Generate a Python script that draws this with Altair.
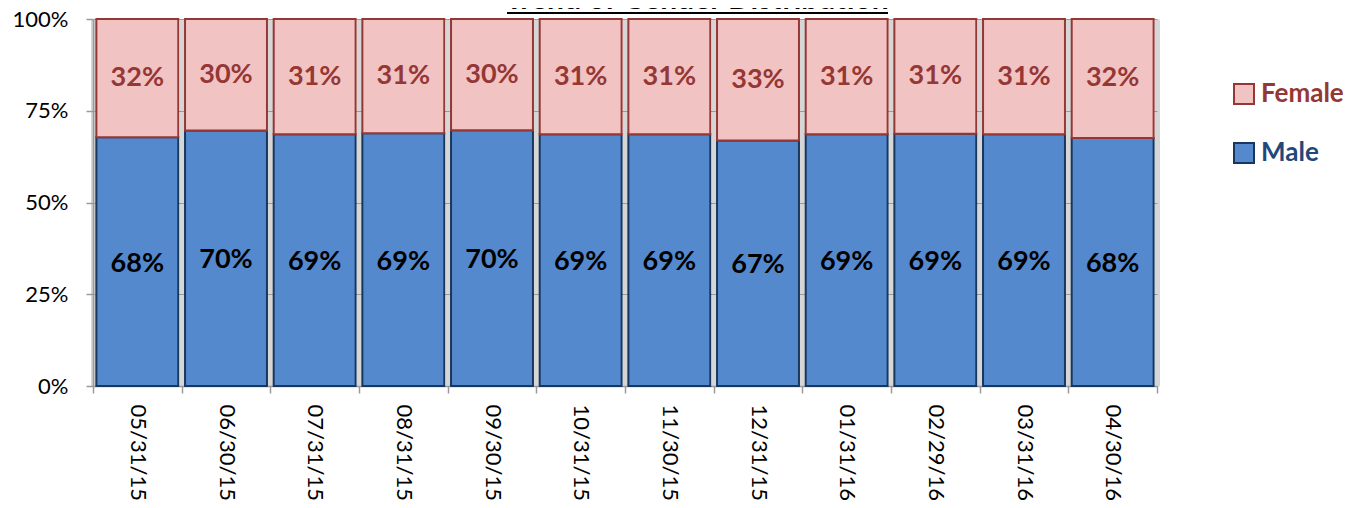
import altair as alt
import pandas as pd

# ---- data ----
title_text = ["Trend of Gender Distribution"]
dates = ["05/31/15", "06/30/15", "07/31/15", "08/31/15", "09/30/15", "10/31/15",
         "11/30/15", "12/31/15", "01/31/16", "02/29/16", "03/31/16", "04/30/16"]
male = [0.678, 0.696, 0.686, 0.689, 0.697, 0.686, 0.686, 0.669, 0.686, 0.687, 0.686, 0.676]
female = [0.322, 0.304, 0.314, 0.311, 0.303, 0.314, 0.314, 0.331, 0.314, 0.313, 0.314, 0.324]
genders = ["Female", "Male"]

rows = []
for d, m, f in zip(dates, male, female):
    rows.append({"date": d, "gender": "Male", "pct": m, "lo": 0.0, "hi": m, "mid": m / 2})
    rows.append({"date": d, "gender": "Female", "pct": f, "lo": m, "hi": m + f, "mid": m + f / 2})
df = pd.DataFrame(rows)

FONT = "Lato"
FILL = ["#F2C3C3", "#5589CD"]
EDGE = ["#953735", "#17375E"]
AXIS_GRAY = "#9A9A9A"

xenc = alt.X(
    "date:N", sort=dates, title=None,
    scale=alt.Scale(paddingInner=0, paddingOuter=0),
    axis=alt.Axis(
        labelAngle=90, labelAlign="left", labelBaseline="middle",
        labelFont=FONT, labelFontSize=22, labelColor="black", labelPadding=11,
        tickBand="extent", ticks=True, tickSize=7, tickColor=AXIS_GRAY, tickWidth=1.5,
        domainColor=AXIS_GRAY, domainWidth=1.5,
        grid=True, gridColor="#D6D6D6", gridWidth=5,
    ),
)

yenc = alt.Y(
    "lo:Q", title=None,
    scale=alt.Scale(domain=[0, 1], nice=False),
    axis=alt.Axis(
        format=".0%", values=[0, 0.25, 0.5, 0.75, 1],
        labelFont=FONT, labelFontSize=22, labelColor="black", labelPadding=18,
        tickSize=7, tickColor=AXIS_GRAY, tickWidth=1.5,
        domainColor=AXIS_GRAY, domainWidth=1.5,
        grid=True, gridColor=AXIS_GRAY, gridWidth=1,
    ),
)

bars = alt.Chart(df).mark_bar(width=alt.RelativeBandSize(0.924), strokeWidth=2).encode(
    x=xenc,
    y=yenc,
    y2="hi:Q",
    color=alt.Color(
        "gender:N",
        scale=alt.Scale(domain=genders, range=FILL),
        legend=alt.Legend(
            title=None, orient="none", legendX=1138, legendY=62, direction="vertical",
            symbolType="square", symbolSize=400, symbolStrokeWidth=2,
            symbolStrokeColor=alt.ExprRef(expr="datum.label == 'Female' ? '#953735' : '#17375E'"),
            labelFont=FONT, labelFontSize=26, labelFontWeight="bold",
            labelColor=alt.ExprRef(expr="datum.label == 'Female' ? '#953735' : '#1F497D'"),
            labelOffset=4, rowPadding=31,
        ),
    ),
    stroke=alt.Stroke("gender:N", scale=alt.Scale(domain=genders, range=EDGE), legend=None),
)

ftext = alt.Chart(df).transform_filter("datum.gender == 'Female'").mark_text(
    font=FONT, fontSize=27, fontWeight="bold", color="#953735", baseline="middle"
).encode(x=alt.X("date:N", sort=dates), y=alt.Y("mid:Q"), text=alt.Text("pct:Q", format=".0%"))

mtext = alt.Chart(df).transform_filter("datum.gender == 'Male'").mark_text(
    font=FONT, fontSize=27, fontWeight="bold", color="black", baseline="middle", dy=2
).encode(x=alt.X("date:N", sort=dates), y=alt.Y("mid:Q"), text=alt.Text("pct:Q", format=".0%"))

# chart title (cut off at the top edge, as in the reference), with its underline
title = alt.Chart(pd.DataFrame({"t": title_text})).mark_text(
    font=FONT, fontSize=30, fontWeight="bold", color="black",
    align="center", baseline="alphabetic",
).encode(text="t:N", x=alt.value(604), y=alt.value(-10))

underline = alt.Chart(pd.DataFrame({"t": title_text})).mark_rule(color="black", strokeWidth=2).encode(
    x=alt.value(414), x2=alt.value(795), y=alt.value(-6)
)

chart = alt.layer(bars, ftext, mtext, title, underline).properties(
    width=1064, height=367,
    padding={"left": 85, "top": 11, "right": 194, "bottom": 114},
    autosize=alt.AutoSizeParams(type="none"),
).configure_view(stroke=None).configure(background="white")

chart.save("out.html", embed_options={"renderer": "svg", "actions": False})
